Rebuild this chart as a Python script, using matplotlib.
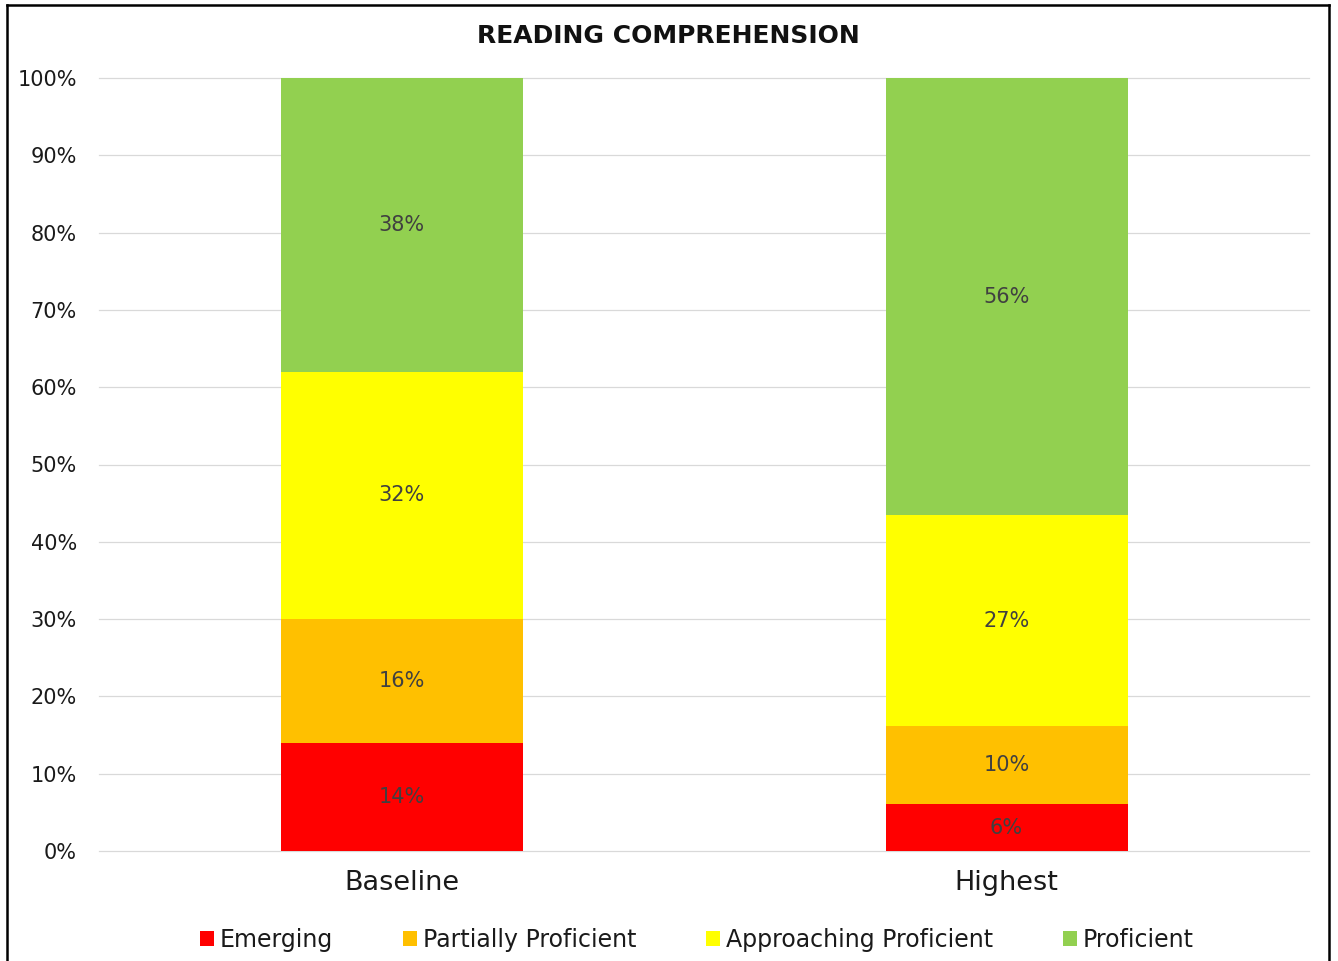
import matplotlib
matplotlib.use("Agg")
import matplotlib.pyplot as plt
import numpy as np
from matplotlib.lines import Line2D
from matplotlib.patches import Patch

# Data
groups = ["Baseline", "Highest"]
levels = ["Emerging", "Partially Proficient", "Approaching Proficient", "Proficient"]
emerging = [14, 6]
partially = [16, 10]
approaching = [32, 27]
proficient = [38, 56]
colors = ["#FF0000", "#FFC000", "#FFFF00", "#92D050"]
yticks = [0, 10, 20, 30, 40, 50, 60, 70, 80, 90, 100]

series = np.array([emerging, partially, approaching, proficient], dtype=float)
totals = series.sum(axis=0)
shares = series / totals * 100  # 100% stacked

plt.rcParams["font.family"] = ["DejaVu Sans"]

W, H = 1338, 961
fig = plt.figure(figsize=(W / 100, H / 100), dpi=100)
ax = fig.add_axes([99 / W, 1 - 851 / H, (1309 - 99) / W, (851 - 78) / H])

x = np.arange(len(groups))
bottom = np.zeros(len(groups))
for i, lvl in enumerate(levels):
    ax.bar(x, shares[i], 0.4, bottom=bottom, color=colors[i], zorder=3,
           edgecolor="none", label=lvl)
    for j in range(len(groups)):
        ax.text(x[j], bottom[j] + shares[i][j] / 2, f"{int(series[i][j])}%",
                ha="center", va="center", fontsize=15, color="#404040", zorder=4)
    bottom += shares[i]

ax.set_xlim(-0.5, 1.5)
ax.set_ylim(0, 100)
ax.set_yticks(yticks)
ax.set_yticklabels([f"{t}%" for t in yticks])
ax.set_xticks(x)
ax.set_xticklabels(groups)
ax.tick_params(axis="y", length=0, pad=16, labelsize=15, labelcolor="#1a1a1a")
ax.tick_params(axis="x", length=0, pad=14, labelsize=19.5, labelcolor="#1a1a1a")
ax.grid(axis="y", color="#d9d9d9", linewidth=0.9, zorder=0)
for gl in ax.get_ygridlines():
    gl.set_clip_on(False)
for s in ax.spines.values():
    s.set_visible(False)

fig.text(668 / W, 1 - 36 / H, "READING COMPREHENSION", ha="center", va="center",
         fontsize=18, fontweight="bold", color="#111111")

handles = [Patch(facecolor=c, edgecolor="none") for c in colors]
fig.legend(handles, levels, loc="center", ncol=4,
           bbox_to_anchor=(697 / W, 1 - 940 / H), frameon=False,
           fontsize=17, handlelength=0.6, handleheight=0.6, handletextpad=0.25,
           columnspacing=2.95, labelcolor="#1a1a1a")

# outer frame (left, top, right)
for xs, ys in [([7 / W, 7 / W], [0, 1 - 5 / H]),
               ([7 / W, 1329 / W], [1 - 5 / H, 1 - 5 / H]),
               ([1329 / W, 1329 / W], [1 - 5 / H, 0])]:
    fig.add_artist(Line2D(xs, ys, transform=fig.transFigure, color="black", linewidth=1.8))

fig.savefig("out.png", dpi=100, facecolor="white")
